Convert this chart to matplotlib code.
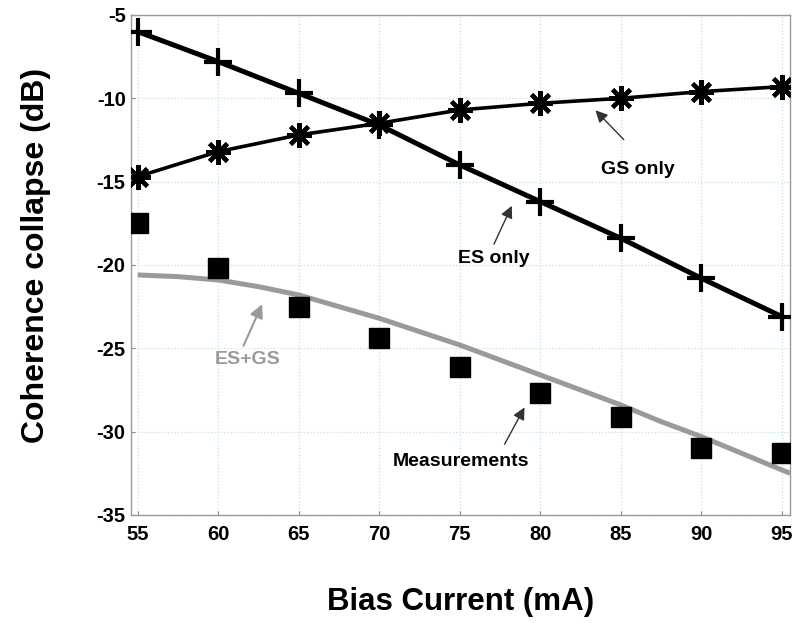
import matplotlib
matplotlib.use("Agg")
import matplotlib.pyplot as plt

plt.rcParams['font.family'] = ['Liberation Sans', 'DejaVu Sans']
plt.rcParams['axes.unicode_minus'] = False

bias = [55, 60, 65, 70, 75, 80, 85, 90, 95]
es_only = [-6.0, -7.8, -9.7, -11.6, -14.0, -16.2, -18.4, -20.8, -23.1]
gs_only = [-14.7, -13.2, -12.2, -11.5, -10.7, -10.3, -10.0, -9.6, -9.3]
measured = [-17.5, -20.2, -22.5, -24.4, -26.1, -27.7, -29.1, -31.0, -31.3]
model_x = [55, 57.5, 60, 62.5, 65, 67.5, 70, 72.5, 75, 77.5, 80, 82.5, 85, 87.5, 90, 92.5, 95, 95.5]
es_gs = [-20.6, -20.7, -20.9, -21.3, -21.8, -22.5, -23.2, -24.0, -24.8, -25.7, -26.6,
         -27.5, -28.4, -29.4, -30.3, -31.3, -32.3, -32.5]
xticks = [55, 60, 65, 70, 75, 80, 85, 90, 95]
yticks = [-5, -10, -15, -20, -25, -30, -35]

fig = plt.figure(figsize=(8.0, 6.23), dpi=100)
ax = fig.add_axes([0.164, 0.1734, 0.8235, 0.8026])

ax.plot(model_x, es_gs, color='#9a9a9a', lw=3.6, solid_capstyle='butt', zorder=2)
ax.plot(bias, es_only, color='black', lw=3.6, marker='+', ms=20, mew=3.0, zorder=3)
ax.plot(bias, gs_only, color='black', lw=2.6, marker=(8, 2, 0), ms=18, mew=3.0, zorder=3)
ax.plot(bias, measured, ls='none', marker='s', ms=14, color='black', zorder=4)

ax.set_xlim(54.6, 95.5)
ax.set_ylim(-35, -5)
ax.set_xticks(xticks)
ax.set_yticks(yticks)
ax.set_xticklabels([str(v) for v in xticks], fontsize=14.5, fontweight='bold')
ax.set_yticklabels([str(v) for v in yticks], fontsize=14.5, fontweight='bold')
ax.tick_params(axis='x', direction='in', length=3, color='#888888', pad=7)
ax.tick_params(axis='y', direction='in', length=3, color='#888888', pad=4)
ax.grid(True, ls=':', color='#c4e0e6', lw=0.9)
for s in ax.spines.values():
    s.set_color('#999999')
    s.set_linewidth(1.0)

ax.set_xlabel('Bias Current (mA)', fontsize=22.5, fontweight='bold', labelpad=31)
ax.set_ylabel('Coherence collapse (dB)', fontsize=23, fontweight='bold')
ax.yaxis.set_label_coords(-0.122, 0.52)

arrow_k = dict(arrowstyle='-|>', lw=1.0, color='#333333', mutation_scale=18)
ax.annotate('', xy=(83.3, -10.6), xytext=(85.3, -12.6), arrowprops=arrow_k)
ax.text(86.05, -14.3, 'GS only', ha='center', va='center', fontsize=14, fontweight='bold')
ax.annotate('', xy=(78.3, -16.3), xytext=(77.05, -18.9), arrowprops=arrow_k)
ax.text(77.1, -19.6, 'ES only', ha='center', va='center', fontsize=14, fontweight='bold')
arrow_g = dict(arrowstyle='-|>', lw=1.5, color='#9a9a9a', mutation_scale=20)
ax.annotate('', xy=(62.8, -22.2), xytext=(61.5, -25.0), arrowprops=arrow_g)
ax.text(61.8, -25.7, 'ES+GS', ha='center', va='center', fontsize=14, fontweight='bold', color='#9a9a9a')
ax.annotate('', xy=(79.1, -28.4), xytext=(77.7, -30.9), arrowprops=arrow_k)
ax.text(75.1, -31.8, 'Measurements', ha='center', va='center', fontsize=14, fontweight='bold')

fig.savefig('out.png', dpi=100)
